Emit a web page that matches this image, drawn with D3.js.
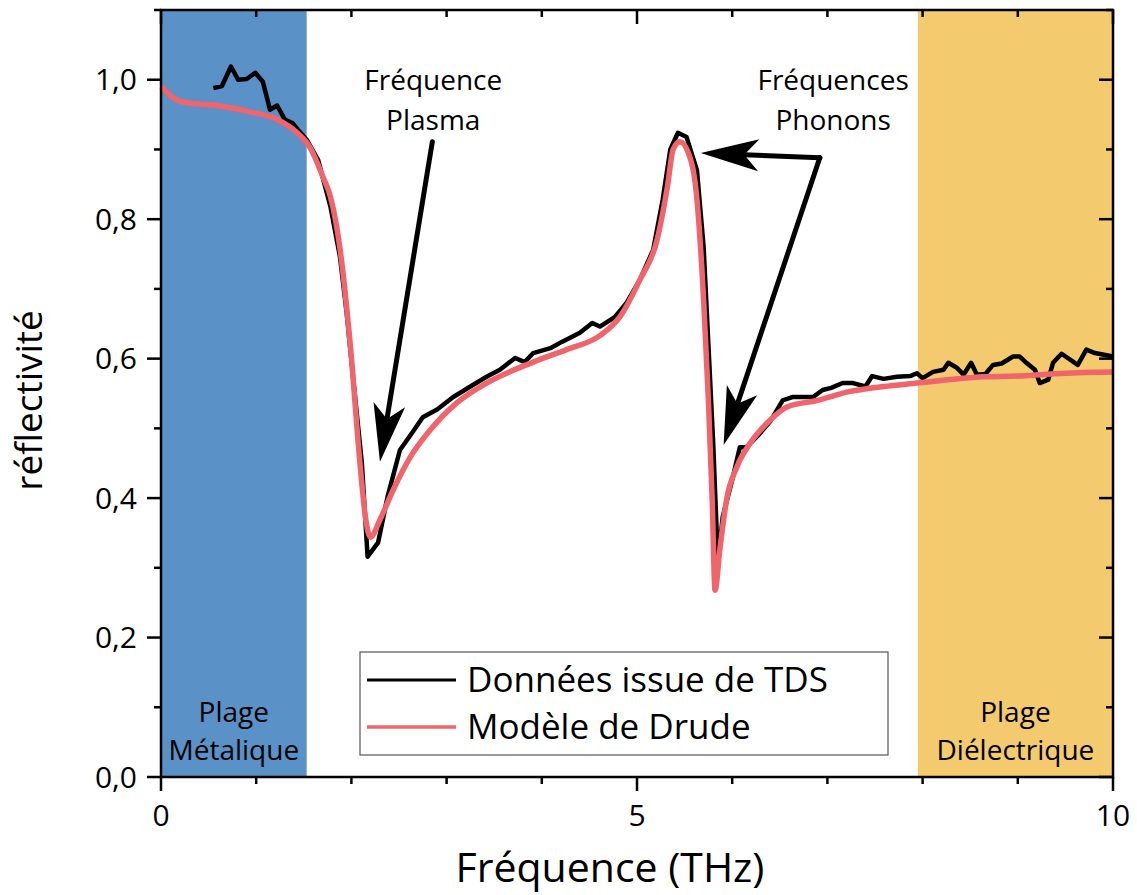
<!DOCTYPE html>
<html>
<head>
<meta charset="utf-8">
<script src="https://d3js.org/d3.v7.min.js"></script>
<style>
  body { margin: 0; background: #fff; }
  text { font-family: "Open Sans", sans-serif; fill: #000; }
</style>
</head>
<body>
<svg id="chart"></svg>
<script>
const width = 1137;
const height = 895;

// TDS measurement (black)
const tdsFreq = [0.55, 0.64, 0.735, 0.81, 0.90, 0.99, 1.07, 1.145, 1.22, 1.30, 1.38, 1.44, 1.53, 1.65, 1.78, 1.88,
    1.95, 2.02, 2.11, 2.17, 2.28, 2.38, 2.51, 2.64, 2.75, 2.90, 3.07, 3.25, 3.42, 3.56, 3.72, 3.82, 3.91, 4.09,
    4.21, 4.40, 4.53, 4.61, 4.77, 4.89, 5.03, 5.17, 5.27, 5.35, 5.43, 5.52, 5.63, 5.70, 5.75, 5.80, 5.85, 5.90,
    6.00, 6.08, 6.15, 6.26, 6.40, 6.53, 6.64, 6.85, 6.95, 7.04, 7.16, 7.27, 7.40, 7.47, 7.59, 7.73, 7.87, 7.94,
    8.00, 8.11, 8.22, 8.27, 8.36, 8.43, 8.51, 8.57, 8.66, 8.74, 8.83, 8.95, 9.02, 9.09, 9.18, 9.23, 9.32, 9.37,
    9.46, 9.63, 9.72, 9.81, 10.0];
const tdsRefl = [0.988, 0.991, 1.019, 1.000, 1.001, 1.010, 0.997, 0.957, 0.963, 0.943, 0.938, 0.928, 0.914, 0.885, 0.818, 0.746,
    0.666, 0.570, 0.450, 0.316, 0.336, 0.402, 0.469, 0.494, 0.516, 0.527, 0.545, 0.560, 0.574, 0.584, 0.601, 0.595, 0.608, 0.615,
    0.624, 0.637, 0.651, 0.646, 0.660, 0.680, 0.713, 0.756, 0.828, 0.900, 0.924, 0.918, 0.870, 0.760, 0.620, 0.480, 0.307, 0.373,
    0.426, 0.473, 0.473, 0.488, 0.510, 0.540, 0.545, 0.545, 0.555, 0.558, 0.565, 0.565, 0.560, 0.575, 0.571, 0.574, 0.575, 0.579,
    0.572, 0.581, 0.584, 0.594, 0.587, 0.577, 0.594, 0.577, 0.578, 0.591, 0.593, 0.603, 0.603, 0.594, 0.584, 0.565, 0.570, 0.594,
    0.607, 0.591, 0.613, 0.608, 0.603];

// Drude model fit (red)
const drudeFreq = [0.0, 0.02, 0.09, 0.23, 0.59, 0.93, 1.22, 1.43, 1.57, 1.70, 1.78, 1.88, 1.99, 2.09, 2.15, 2.20,
    2.30, 2.44, 2.62, 2.83, 3.11, 3.42, 3.91, 4.26, 4.61, 4.82, 5.03, 5.21, 5.32, 5.38, 5.45, 5.54, 5.63, 5.70,
    5.75, 5.79, 5.82, 5.87, 5.94, 6.05, 6.19, 6.37, 6.58, 6.89, 7.24, 7.59, 7.94, 8.29, 8.63, 8.99, 9.34, 9.69, 10.0];
const drudeRefl = [0.990, 0.988, 0.978, 0.968, 0.963, 0.954, 0.943, 0.924, 0.902, 0.861, 0.832, 0.758, 0.617, 0.450, 0.370, 0.344,
    0.369, 0.412, 0.459, 0.498, 0.537, 0.565, 0.595, 0.613, 0.633, 0.660, 0.713, 0.770, 0.847, 0.900, 0.911, 0.895, 0.828, 0.684,
    0.541, 0.397, 0.268, 0.326, 0.397, 0.445, 0.479, 0.508, 0.531, 0.540, 0.553, 0.560, 0.565, 0.570, 0.574, 0.575, 0.578, 0.580, 0.581];

// Shaded ranges
const bandStart = [0, 7.95];
const bandEnd = [1.53, 10];
const bandColor = ['#5a91c6', '#f3cb6e'];
const bandLine1 = ['Plage', 'Plage'];
const bandLine2 = ['Métalique', 'Diélectrique'];

const xTicks = [0, 5, 10];
const yTicks = [0, 0.2, 0.4, 0.6, 0.8, 1.0];

const margin = { top: 10, right: 24, bottom: 118, left: 161 };
const innerW = width - margin.left - margin.right;
const innerH = height - margin.top - margin.bottom;

const svg = d3.select('#chart').attr('width', width).attr('height', height);
const g = svg.append('g').attr('transform', `translate(${margin.left},${margin.top})`);

const x = d3.scaleLinear().domain([0, 10]).range([0, innerW]);
const y = d3.scaleLinear().domain([0, 1.1]).range([innerH, 0]);

// Bands
g.selectAll('.band')
    .data(bandStart)
    .enter()
    .append('rect')
    .attr('x', d => x(d))
    .attr('y', 0)
    .attr('width', (d, i) => x(bandEnd[i]) - x(d))
    .attr('height', innerH)
    .attr('fill', (d, i) => bandColor[i]);

bandStart.forEach((d, i) => {
    const cx = (x(d) + x(bandEnd[i])) / 2;
    g.append('text').attr('x', cx).attr('y', y(0.079)).attr('text-anchor', 'middle')
        .style('font-size', '28px').text(bandLine1[i]);
    g.append('text').attr('x', cx).attr('y', y(0.0244)).attr('text-anchor', 'middle')
        .style('font-size', '28px').text(bandLine2[i]);
});

// Curves
const tds = tdsFreq.map((f, i) => [f, tdsRefl[i]]);
const drude = drudeFreq.map((f, i) => [f, drudeRefl[i]]);

g.append('path')
    .datum(tds)
    .attr('fill', 'none')
    .attr('stroke', '#000')
    .attr('stroke-width', 4.5)
    .attr('stroke-linejoin', 'round')
    .attr('d', d3.line().x(d => x(d[0])).y(d => y(d[1])));

g.append('path')
    .datum(drude)
    .attr('fill', 'none')
    .attr('stroke', '#f0646c')
    .attr('stroke-width', 5.5)
    .attr('stroke-linejoin', 'round')
    .attr('d', d3.line().curve(d3.curveMonotoneX).x(d => x(d[0])).y(d => y(d[1])));

// Arrows (data coordinates)
const arrows = [
    { from: [2.85, 0.911], to: [2.30, 0.452] },
    { from: [6.92, 0.888], to: [5.67, 0.895] },
    { from: [6.92, 0.888], to: [5.91, 0.476] }
];
const headLen = 58, headHalf = 16, notch = 0.75;
arrows.forEach(a => {
    const x1 = x(a.from[0]), y1 = y(a.from[1]);
    const x2 = x(a.to[0]), y2 = y(a.to[1]);
    const dx = x1 - x2, dy = y1 - y2;
    const len = Math.hypot(dx, dy);
    const ux = dx / len, uy = dy / len;
    const nx = -uy, ny = ux;
    const nX = x2 + ux * headLen * notch, nY = y2 + uy * headLen * notch;
    g.append('line')
        .attr('x1', x1).attr('y1', y1).attr('x2', nX).attr('y2', nY)
        .attr('stroke', '#000').attr('stroke-width', 5).attr('stroke-linecap', 'round');
    const bx = x2 + ux * headLen, by = y2 + uy * headLen;
    g.append('path')
        .attr('d', `M${x2},${y2}L${bx + nx * headHalf},${by + ny * headHalf}L${nX},${nY}L${bx - nx * headHalf},${by - ny * headHalf}Z`)
        .attr('fill', '#000');
});
// line join at corner
g.append('circle').attr('cx', x(6.92)).attr('cy', y(0.888)).attr('r', 2.5).attr('fill', '#000');

// Annotation labels
const notes = [
    { x: 2.86, lines: ['Fréquence', 'Plasma'] },
    { x: 7.06, lines: ['Fréquences', 'Phonons'] }
];
notes.forEach(n => {
    n.lines.forEach((t, i) => {
        g.append('text').attr('x', x(n.x)).attr('y', y(1.0) + 10 + i * 40)
            .attr('text-anchor', 'middle').style('font-size', '28px').text(t);
    });
});

// Axes
const axisW = 2.5;
const frame = g.append('g');
frame.append('rect').attr('x', 0).attr('y', 0).attr('width', innerW).attr('height', innerH)
    .attr('fill', 'none').attr('stroke', '#000').attr('stroke-width', axisW);

const xMinor = d3.range(0, 10.01, 1);
const yMinor = d3.range(0, 1.101, 0.1);

// bottom ticks (outward)
frame.selectAll('.xb').data(xMinor).enter().append('line')
    .attr('x1', d => x(d)).attr('x2', d => x(d))
    .attr('y1', innerH).attr('y2', d => innerH + (d % 5 === 0 ? 14 : 7))
    .attr('stroke', '#000').attr('stroke-width', axisW);
// top ticks (inward)
frame.selectAll('.xt').data(xMinor).enter().append('line')
    .attr('x1', d => x(d)).attr('x2', d => x(d))
    .attr('y1', 0).attr('y2', d => (d % 5 === 0 ? 14 : 7))
    .attr('stroke', '#000').attr('stroke-width', axisW);
// left ticks (outward)
frame.selectAll('.yl').data(yMinor).enter().append('line')
    .attr('x1', 0).attr('x2', (d, i) => -(i % 2 === 0 ? 14 : 7))
    .attr('y1', d => y(d)).attr('y2', d => y(d))
    .attr('stroke', '#000').attr('stroke-width', axisW);
// right ticks (inward)
frame.selectAll('.yr').data(yMinor).enter().append('line')
    .attr('x1', innerW).attr('x2', (d, i) => innerW - (i % 2 === 0 ? 14 : 7))
    .attr('y1', d => y(d)).attr('y2', d => y(d))
    .attr('stroke', '#000').attr('stroke-width', axisW);

frame.selectAll('.xl').data(xTicks).enter().append('text')
    .attr('x', d => x(d)).attr('y', innerH + 49)
    .attr('text-anchor', 'middle').style('font-size', '30px').text(d => d);
frame.selectAll('.ylab').data(yTicks).enter().append('text')
    .attr('x', -24).attr('y', d => y(d)).attr('dy', '0.35em')
    .attr('text-anchor', 'end').style('font-size', '30px')
    .text(d => d3.format('.1f')(d).replace('.', ','));

// Axis titles
svg.append('text').attr('x', 610).attr('y', 882)
    .attr('text-anchor', 'middle').style('font-size', '41px').text('Fréquence (THz)');
svg.append('text').attr('transform', `translate(42,${margin.top + y(0.54)}) rotate(-90)`)
    .attr('text-anchor', 'middle').style('font-size', '37px').text('réflectivité');

// Legend
const legendItems = ['Données issue de TDS', 'Modèle de Drude'];
const legendColors = ['#000', '#f0646c'];
const legend = svg.append('g').attr('transform', 'translate(360,652)');
legend.append('rect').attr('width', 528).attr('height', 103)
    .attr('fill', '#fff').attr('stroke', '#555').attr('stroke-width', 1.2);
legendItems.forEach((t, i) => {
    legend.append('line').attr('x1', 7).attr('x2', 96).attr('y1', 28 + i * 47).attr('y2', 28 + i * 47)
        .attr('stroke', legendColors[i]).attr('stroke-width', i === 0 ? 3 : 3.5);
    legend.append('text').attr('x', 107).attr('y', 28 + i * 47).attr('dy', '0.35em')
        .style('font-size', '35px').text(t);
});
</script>
</body>
</html>
